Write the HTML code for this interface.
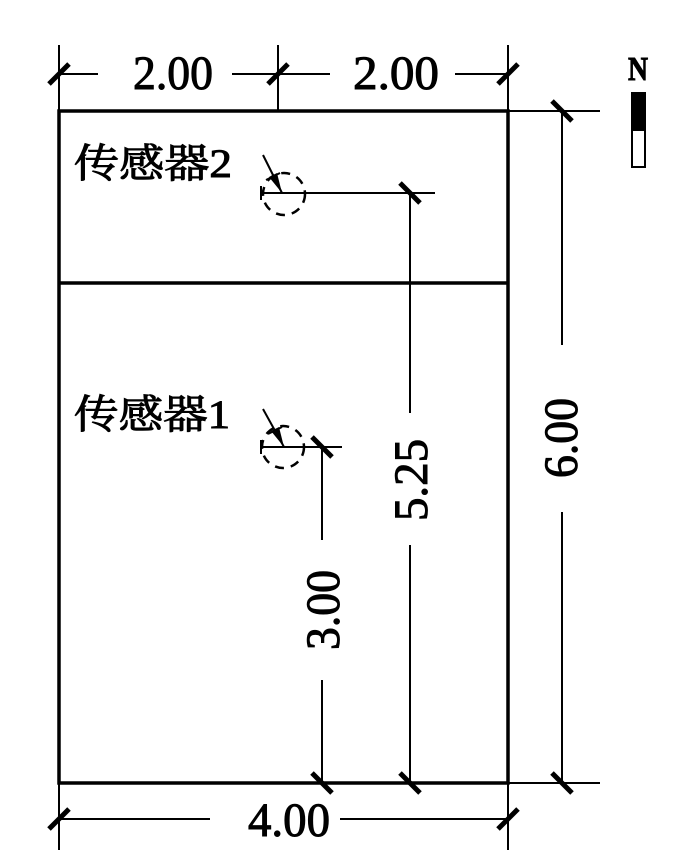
<!DOCTYPE html>
<html><head><meta charset="utf-8"><style>
html,body{margin:0;padding:0;background:#fff;}
svg{display:block;}
text{font-family:"Liberation Serif","Noto Serif CJK SC",serif;fill:#000;stroke:#000;stroke-width:1;}
</style></head><body>
<svg width="700" height="861" viewBox="0 0 700 861" xmlns="http://www.w3.org/2000/svg">
<g stroke="#000" fill="none">
<rect x="59" y="111" width="449" height="672" stroke-width="3.5"/>
<line x1="59" y1="283" x2="508" y2="283" stroke-width="3.5"/>
<g stroke-width="2">
<line x1="59" y1="45" x2="59" y2="111"/>
<line x1="278" y1="45" x2="278" y2="111"/>
<line x1="508" y1="45" x2="508" y2="111"/>
<line x1="508" y1="111" x2="600" y2="111"/>
<line x1="508" y1="783" x2="600" y2="783"/>
<line x1="59" y1="783" x2="59" y2="850"/>
<line x1="508" y1="783" x2="508" y2="850"/>
<line x1="59" y1="74" x2="98" y2="74"/>
<line x1="232" y1="74" x2="330" y2="74"/>
<line x1="455" y1="74" x2="508" y2="74"/>
<line x1="59" y1="819" x2="210" y2="819"/>
<line x1="340" y1="819" x2="508" y2="819"/>
<line x1="562" y1="111" x2="562" y2="345"/>
<line x1="562" y1="512" x2="562" y2="783"/>
<line x1="262" y1="193" x2="435" y2="193"/>
<line x1="410" y1="193" x2="410" y2="413"/>
<line x1="410" y1="545" x2="410" y2="783"/>
<line x1="260" y1="447" x2="342" y2="447"/>
<line x1="322" y1="447" x2="322" y2="540"/>
<line x1="322" y1="680" x2="322" y2="783"/>
<line x1="261" y1="186" x2="261" y2="200"/>
<line x1="261" y1="440" x2="261" y2="454"/>
<line x1="263" y1="155" x2="282" y2="193"/>
<line x1="263" y1="409" x2="284" y2="447"/>
<line x1="266" y1="180" x2="280" y2="173"/>
<line x1="268" y1="434" x2="282" y2="427"/>
</g>
<g stroke-width="5">
<line x1="49" y1="84" x2="69" y2="64"/>
<line x1="268" y1="84" x2="288" y2="64"/>
<line x1="498" y1="84" x2="518" y2="64"/>
<line x1="49" y1="829" x2="69" y2="809"/>
<line x1="498" y1="829" x2="518" y2="809"/>
<line x1="552" y1="101" x2="572" y2="121"/>
<line x1="552" y1="773" x2="572" y2="793"/>
<line x1="400" y1="773" x2="420" y2="793"/>
<line x1="312" y1="773" x2="332" y2="793"/>
<line x1="400" y1="183" x2="420" y2="203"/>
<line x1="312" y1="437" x2="332" y2="457"/>
</g>
<circle cx="284" cy="194" r="21" stroke-width="2.5" stroke-dasharray="9,7"/>
<circle cx="283" cy="447" r="21" stroke-width="2.5" stroke-dasharray="9,7"/>
<rect x="632" y="93" width="13" height="74" stroke-width="2"/>
</g>
<polygon points="277,173 269,177 282,193" fill="#000"/>
<polygon points="279,427 271,431 284,447" fill="#000"/>
<rect x="632" y="93" width="13" height="38" fill="#000"/>
<text x="628" y="80" font-size="34" font-weight="bold" textLength="20" lengthAdjust="spacingAndGlyphs">N</text>
<g font-size="48">
<text x="133" y="89" textLength="80" lengthAdjust="spacingAndGlyphs">2.00</text>
<text x="353" y="89" textLength="86" lengthAdjust="spacingAndGlyphs">2.00</text>
<text x="248" y="836" textLength="82" lengthAdjust="spacingAndGlyphs">4.00</text>
<text transform="translate(577,478) rotate(-90)" textLength="80" lengthAdjust="spacingAndGlyphs">6.00</text>
<text transform="translate(427,521) rotate(-90)" textLength="82" lengthAdjust="spacingAndGlyphs">5.25</text>
<text transform="translate(339,650) rotate(-90)" textLength="80" lengthAdjust="spacingAndGlyphs">3.00</text>
<text x="74" y="177" font-size="40" textLength="158" lengthAdjust="spacingAndGlyphs">传感器2</text>
<text x="74" y="428" font-size="40" textLength="156" lengthAdjust="spacingAndGlyphs">传感器1</text>
</g>
</svg>
</body></html>
